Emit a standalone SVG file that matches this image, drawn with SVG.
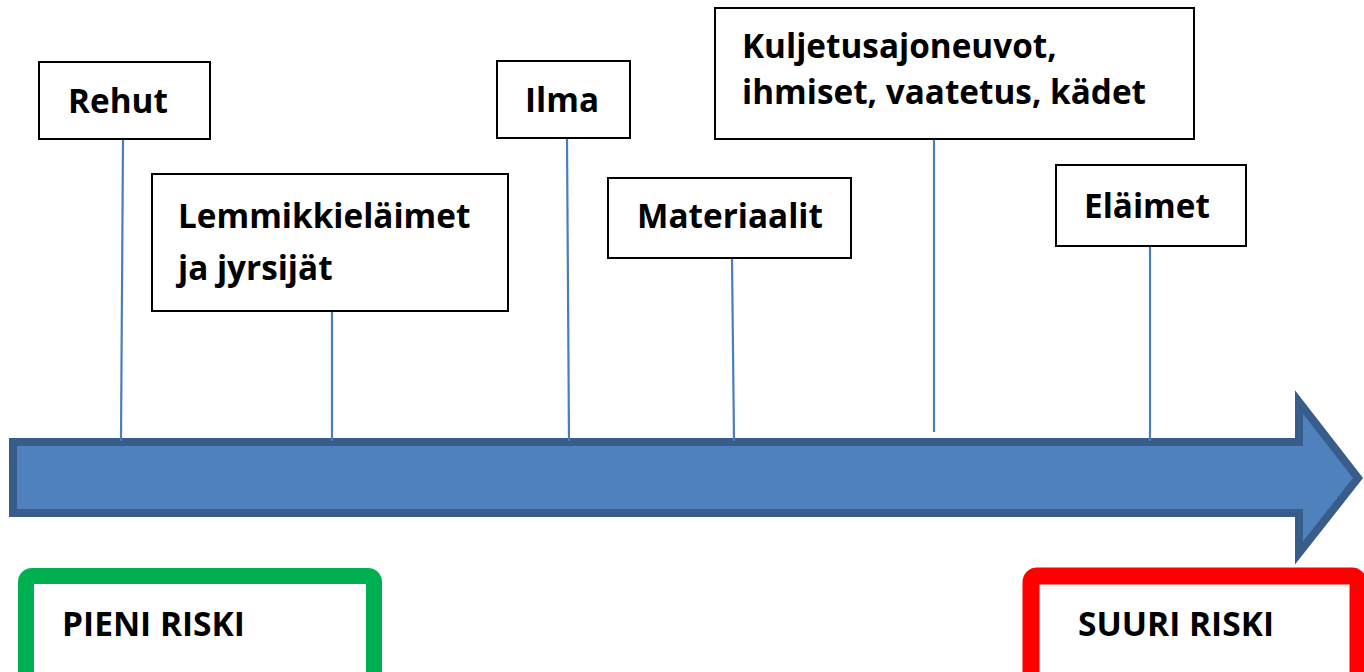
<svg xmlns="http://www.w3.org/2000/svg" width="1364" height="672" viewBox="0 0 1364 672">
<style>
.box{fill:#fff;stroke:#000;stroke-width:2}
.lbl{font-family:"Open Sans","Liberation Sans",sans-serif;font-weight:bold;font-size:33.3px;fill:#000}
.risk{font-family:"Open Sans","Liberation Sans",sans-serif;font-weight:bold;font-size:33.5px;fill:#000}
.con{stroke:#4A7EBB;stroke-width:2.2;fill:none}
</style>
<rect width="1364" height="672" fill="#fff"/>
<g id="arrow">
<path d="M13,442 L1299,442 L1299,402 L1358,478 L1299,553 L1299,513 L13,513 Z" fill="#4F81BD" stroke="#385D8A" stroke-width="8" stroke-linejoin="miter"/>
</g>
<g id="connectors">
<line class="con" x1="123" y1="139" x2="121" y2="441"/>
<line class="con" x1="332" y1="311" x2="332" y2="441"/>
<line class="con" x1="567" y1="139" x2="569" y2="441"/>
<line class="con" x1="732" y1="258" x2="734" y2="441"/>
<line class="con" x1="934" y1="132" x2="934" y2="432"/>
<line class="con" x1="1150" y1="246" x2="1150" y2="441"/>
</g>
<g id="rehut">
<rect class="box" x="39" y="62" width="171" height="77"/>
<text class="lbl" x="68" y="113">Rehut</text>
</g>
<g id="lemmikki">
<rect class="box" x="152" y="174" width="356" height="137"/>
<text class="lbl" x="178" y="228">Lemmikkieläimet</text>
<text class="lbl" x="178" y="280">ja jyrsijät</text>
</g>
<g id="ilma">
<rect class="box" x="497" y="61" width="133" height="77"/>
<text class="lbl" x="525" y="112">Ilma</text>
</g>
<g id="materiaalit">
<rect class="box" x="608" y="178" width="243" height="80"/>
<text class="lbl" x="637" y="228">Materiaalit</text>
</g>
<g id="kuljetus">
<rect class="box" x="715" y="8" width="479" height="131"/>
<text class="lbl" x="742" y="58">Kuljetusajoneuvot,</text>
<text class="lbl" x="742" y="104">ihmiset, vaatetus, kädet</text>
</g>
<g id="elaimet">
<rect class="box" x="1056" y="165" width="190" height="81"/>
<text class="lbl" x="1084" y="218">Eläimet</text>
</g>
<g id="pieni">
<rect x="26" y="576" width="348" height="120" rx="6" fill="#fff" stroke="#00B050" stroke-width="16"/>
<text class="risk" x="62" y="636">PIENI RISKI</text>
</g>
<g id="suuri">
<rect x="1031" y="576" width="327" height="120" rx="6" fill="#fff" stroke="#FF0000" stroke-width="17"/>
<text class="risk" x="1078" y="636">SUURI RISKI</text>
</g>
</svg>
